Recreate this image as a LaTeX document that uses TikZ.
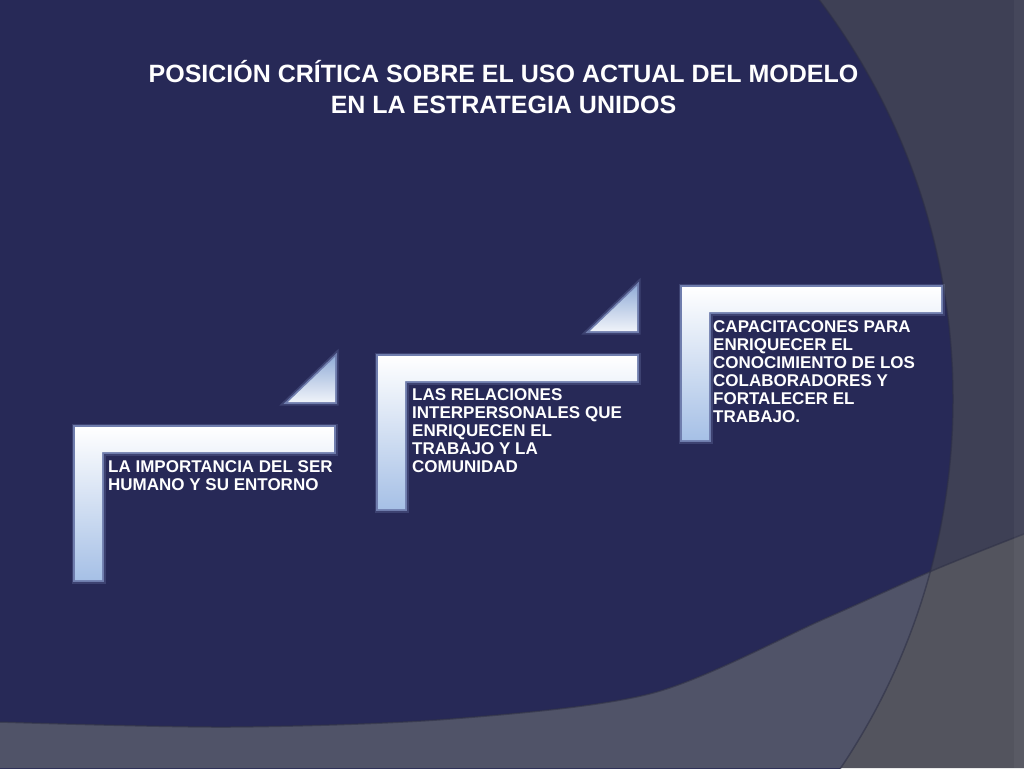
\documentclass[tikz,border=0pt]{standalone}
\usepackage{fontspec}
\setmainfont{Liberation Sans}
\usepackage{tikz}
\definecolor{slategrey}{HTML}{3E4055}
\definecolor{navyblue}{HTML}{272957}
\definecolor{lowgrey}{HTML}{53545E}
\definecolor{lowblue}{HTML}{505368}
\definecolor{edgeshade}{HTML}{2E3046}
\definecolor{glowblue}{HTML}{A2B8EA}
\definecolor{barblue}{HTML}{A6C0E6}
\definecolor{triblue}{HTML}{94AED8}
\tikzset{barglow/.style = {preaction = {draw = glowblue, line width = 7, opacity = .18},
                           preaction = {draw = glowblue, line width = 3.5, opacity = .5}}}
\newcommand{\stepbar}[2]{%
  \path[barglow, top color = white, bottom color = barblue] (#1,#2) -- ++(259,0) -- ++(0,25) -- ++(-232,0) -- ++(0,128) -- ++(-27,0) -- cycle;}
\newcommand{\steptri}[2]{%
  \path[barglow, top color = triblue, bottom color = white!85!triblue] (#1,#2) -- ++(-47,0) -- ++(47,-45) -- cycle;}

\begin{document}
\begin{tikzpicture}[x = 1pt, y = -1pt]
	\tikzstyle{steptext} = [text = white, font = \bfseries\fontsize{17}{18}\selectfont, align = left, anchor = north west, inner sep = 0]
	\tikzstyle{titletext} = [text = white, font = \bfseries\fontsize{25}{31.5}\selectfont, align = center, anchor = north, inner sep = 0]
\useasboundingbox (0,0) rectangle (1024,768);
\clip (0,0) rectangle (1024,768);
	% background
	\path[fill = slategrey] (0,0) rectangle (1024,768);
	\path[fill = navyblue] (291,399) circle (662pt);
	\path[fill = lowgrey] plot[smooth] coordinates {(0,722) (229,727) (450,719) (653,693) (824,619) (934,570) (1024,534)} -- (1024,768) -- (0,768) -- cycle;
	\begin{scope}
	\clip plot[smooth] coordinates {(0,722) (229,727) (450,719) (653,693) (824,619) (934,570) (1024,534)} -- (1024,768) -- (0,768) -- cycle;
	\path[fill = lowblue] (291,399) circle (662pt);
	\end{scope}
	\path[draw = edgeshade, line width = 1.5, opacity = .6] (291,399) circle (662pt);
	\path[draw = edgeshade, line width = 1.5, opacity = .6] plot[smooth] coordinates {(0,722) (229,727) (450,719) (653,693) (824,619) (934,570) (1024,534)};
	\path[fill = white, opacity = .04] (1014,0) rectangle (1024,768);
	% steps
	\stepbar{75}{427}
	\stepbar{378}{356}
	\stepbar{682}{287}
	\steptri{335}{402}
	\steptri{637}{331}
\node[titletext] (title) at (503.5,60) {POSICIÓN CRÍTICA SOBRE EL USO ACTUAL DEL MODELO\\EN LA ESTRATEGIA UNIDOS};
\node[steptext] (human) at (108,460) {LA IMPORTANCIA DEL SER\\HUMANO Y SU ENTORNO};
\node[steptext] (relations) at (412,388) {LAS RELACIONES\\INTERPERSONALES QUE\\ENRIQUECEN EL\\TRABAJO Y LA\\COMUNIDAD};
\node[steptext] (training) at (713,320) {CAPACITACONES PARA\\ENRIQUECER EL\\CONOCIMIENTO DE LOS\\COLABORADORES Y\\FORTALECER EL\\TRABAJO.};
\end{tikzpicture}
\end{document}
